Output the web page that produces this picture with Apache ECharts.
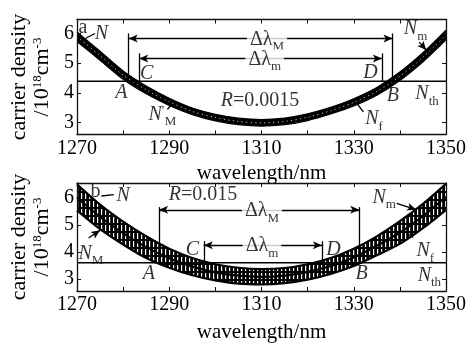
<!DOCTYPE html>
<html><head><meta charset="utf-8">
<script src="https://cdn.jsdelivr.net/npm/echarts@6/dist/echarts.min.js"></script>
<style>html,body{margin:0;padding:0;background:#fff}#c{width:469px;height:344px}</style>
</head><body><div id="c"></div>
<script>
// ---------- data ----------
const wl = [1270,1275,1280,1285,1290,1295,1300,1305,1310,1315,1320,1325,1330,1335,1340,1345,1350];
// panel a (R=0.0015)
const topLower = [5.73,5.10,4.46,3.97,3.58,3.27,3.06,2.93,2.88,2.93,3.07,3.29,3.56,3.92,4.42,5.05,5.79];
const topUpper = [6.05,5.40,4.74,4.23,3.82,3.49,3.28,3.15,3.10,3.15,3.29,3.51,3.80,4.18,4.70,5.35,6.11];
const topNth = 4.39;
// panel b (R=0.015)
const botLower = [5.54,4.85,4.28,3.78,3.42,3.14,2.95,2.83,2.80,2.85,2.98,3.19,3.48,3.88,4.30,4.88,5.56];
const botUpper = [6.50,5.75,5.12,4.58,4.12,3.78,3.55,3.42,3.37,3.41,3.55,3.78,4.12,4.58,5.14,5.78,6.52];
const botNth = 3.60;
// wavelengths of A,B (Δλ_M) and C,D (Δλ_m)
const topAB = [1281.2, 1338.4], topCD = [1283.5, 1336.1];
const botAB = [1287.8, 1331.2], botCD = [1297.5, 1323.1];
const xTicks = [1270,1290,1310,1330,1350];
const yTicks = [3,4,5,6];

// ---------- layout / annotations ----------
const topAnn = {vTopM:6.0, arrM:5.83, vTopm:5.33, arrm:5.16};
const botAnn = {vTopM:5.66, arrM:5.56, vTopm:4.40, arrm:4.25};

const FONT = 'Liberation Serif';
const RICH = {
  r:{fontSize:20,lineHeight:20,verticalAlign:'top',fontFamily:FONT,color:'#000'},
  i:{fontSize:20,lineHeight:20,verticalAlign:'top',fontStyle:'italic',fontFamily:FONT,color:'#000'},
  s:{fontSize:13,lineHeight:13,verticalAlign:'top',padding:[11,0,0,0],fontFamily:FONT,color:'#000'},
  p:{fontSize:13,lineHeight:13,verticalAlign:'top',fontFamily:FONT,color:'#000'}
};
const topLabels = [
  [1271.3,6.18,'{r|a}'],
  [1275.3,5.98,'{i|N}'],
  [1279.6,4.02,'{i|A}'],
  [1285.1,4.66,'{i|C}'],
  [1288.5,3.28,'{i|N}{p|′}{s|M}'],
  [1309.7,3.75,'{i|R}{r|=0.0015}'],
  [1333.6,4.69,'{i|D}'],
  [1338.5,3.92,'{i|B}'],
  [1343.4,6.16,'{i|N}{s|m}'],
  [1345.9,3.96,'{i|N}{s|th}'],
  [1334.4,3.12,'{i|N}{s|f}'],
  [1311.2,5.80,'{r|Δλ}{s|M}',true],
  [1310.7,5.13,'{r|Δλ}{s|m}',true]
];
const botLabels = [
  [1274.0,6.21,'{r|b}'],
  [1280.0,6.07,'{i|N}'],
  [1297.3,6.11,'{i|R}{r|=0.015}'],
  [1310.1,5.52,'{r|Δλ}{s|M}',true],
  [1310.1,4.22,'{r|Δλ}{s|m}',true],
  [1295.0,4.07,'{i|C}'],
  [1325.6,4.07,'{i|D}'],
  [1285.6,3.19,'{i|A}'],
  [1331.7,3.19,'{i|B}'],
  [1346.4,3.14,'{i|N}{s|th}'],
  [1345.5,4.05,'{i|N}{s|f}'],
  [1336.6,6.02,'{i|N}{s|m}'],
  [1273.0,3.95,'{i|N}{s|M}']
];
// leader lines [x1,y1,x2,y2,arrowAtEnd]
const topLeaders = [
  [1271.9,5.84,1273.9,6.0,false],
  [1289.6,3.45,1290.6,3.62,false],
  [1344.2,5.71,1345.7,5.44,true],
  [1332.1,3.36,1330.6,3.66,false]
];
const botLeaders = [
  [1275.3,6.07,1278.0,6.12,false],
  [1339.3,5.80,1343.5,5.57,true],
  [1342.9,4.54,1341.1,4.76,false],
  [1272.5,4.52,1275.0,4.80,true]
];

function hatch(){
  const c=document.createElement('canvas'); c.width=4; c.height=8;
  const g=c.getContext('2d'); g.fillStyle='#000'; g.fillRect(0,0,4,8);
  g.fillStyle='#fff'; g.fillRect(1,1,1.2,6); return c;
}

const grids = [
  {left:76, top:19.5, width:375, height:115},
  {left:73, top:183, width:377, height:119}
];
const yRanges = [[2.6,6.47],[2.56,6.55]];
const AX = '#111';

const xAxes = [], yAxes = [];
grids.forEach((g,gi)=>{
  xAxes.push({type:'value',gridIndex:gi,min:1270,max:1350,interval:10,position:'bottom',z:10,
    axisLine:{show:true,onZero:false,lineStyle:{color:AX,width:1.3}},
    axisTick:{show:true,inside:true,length:4,lineStyle:{color:AX,width:1}},
    splitLine:{show:false},
    axisLabel:{show:true,margin:4,color:'#000',fontFamily:FONT,fontSize:20,
      formatter:v=>xTicks.indexOf(v)>=0?String(v):''},
    name:'wavelength/nm',nameLocation:'middle',nameGap:gi===0?28:31,
    nameTextStyle:{fontFamily:FONT,fontSize:21,color:'#000'}});
  xAxes.push({type:'value',gridIndex:gi,min:1270,max:1350,interval:10,position:'top',z:10,
    axisLine:{show:true,onZero:false,lineStyle:{color:AX,width:1.3}},
    axisTick:{show:true,inside:true,length:4,lineStyle:{color:AX,width:1}},
    splitLine:{show:false},axisLabel:{show:false}});
  const [mn,mx]=yRanges[gi];
  yAxes.push({type:'value',gridIndex:gi,min:mn,max:mx,position:'left',z:10,
    axisLine:{show:true,onZero:false,lineStyle:{color:AX,width:1.3}},
    axisTick:{show:true,inside:true,length:4,customValues:yTicks,lineStyle:{color:AX,width:1}},
    splitLine:{show:false},
    axisLabel:{show:true,margin:3,customValues:yTicks,color:'#000',fontFamily:FONT,fontSize:20},
    name:'{n|carrier density}\n{n|/10}{p|18}{n|cm}{p|-3}',nameLocation:'middle',nameRotate:90,nameGap:23,
    nameTextStyle:{color:'#000',rich:{
      n:{fontFamily:FONT,fontSize:22,lineHeight:23,verticalAlign:'top',color:'#000'},
      p:{fontFamily:FONT,fontSize:13,lineHeight:13,verticalAlign:'top',color:'#000'}}}});
  yAxes.push({type:'value',gridIndex:gi,min:mn,max:mx,position:'right',z:10,
    axisLine:{show:true,onZero:false,lineStyle:{color:AX,width:1.3}},
    axisTick:{show:true,inside:true,length:4,customValues:yTicks,lineStyle:{color:AX,width:1}},
    splitLine:{show:false},axisLabel:{show:false}});
});

const series = [];
function band(gi, lower, upper, fill, mid, lw){
  const xi=gi*2, yi=gi*2;
  // filled region between the two curves, through the axis scales
  series.push({type:'custom',xAxisIndex:xi,yAxisIndex:yi,clip:true,silent:true,z:2,
    data:wl.map((x,i)=>[x,lower[i],upper[i]]),
    renderItem:(params,api)=>{
      if(params.dataIndex!==0) return null;
      const pts=[];
      for(let i=0;i<wl.length;i++) pts.push(api.coord([wl[i],upper[i]]));
      for(let i=wl.length-1;i>=0;i--) pts.push(api.coord([wl[i],lower[i]]));
      return {type:'polygon',shape:{points:pts},style:{fill:fill}};
    }});
  [lower,upper].forEach(arr=>series.push({type:'line',xAxisIndex:xi,yAxisIndex:yi,smooth:0.3,symbol:'none',
    data:wl.map((x,i)=>[x,arr[i]]),lineStyle:{color:'#000',width:lw},z:3}));
  series.push({type:'line',xAxisIndex:xi,yAxisIndex:yi,smooth:0.3,symbol:'none',
    data:wl.map((x,i)=>[x,+((upper[i]+lower[i])/2).toFixed(3)]),
    lineStyle:mid,z:3});
}
band(0, topLower, topUpper, '#000', {color:'#fff',width:1,type:[1,3.5],opacity:0.9}, 1.3);
band(1, botLower, botUpper, {image:hatch(),repeat:'repeat'}, {color:'#000',width:2.2}, 2.2);

function annot(gi, nth, AB, CD, A, leaders){
  const xi=gi*2;
  const seg=(x1,y1,x2,y2,s1,s2)=>[{coord:[x1,y1],symbol:s1||'none'},{coord:[x2,y2],symbol:s2||'none'}];
  const d=[
    seg(AB[0],nth,AB[0],A.vTopM), seg(AB[1],nth,AB[1],A.vTopM),
    seg(CD[0],nth,CD[0],A.vTopm), seg(CD[1],nth,CD[1],A.vTopm),
    seg(AB[0],A.arrM,AB[1],A.arrM,'arrow','arrow'),
    seg(CD[0],A.arrm,CD[1],A.arrm,'arrow','arrow')
  ];
  leaders.forEach(l=>d.push(seg(l[0],l[1],l[2],l[3],'none',l[4]?'arrow':'none')));
  series.push({type:'line',xAxisIndex:xi,yAxisIndex:xi,symbol:'none',z:4,
    data:[[1270,nth],[1350,nth]],lineStyle:{color:'#000',width:1.5},
    markLine:{silent:true,symbolSize:[6,9],animation:false,
      lineStyle:{color:'#000',width:1.3,type:'solid'},label:{show:false},
      emphasis:{disabled:true},data:d}});
}
annot(0, topNth, topAB, topCD, topAnn, topLeaders);
annot(1, botNth, botAB, botCD, botAnn, botLeaders);

function labels(gi, items){
  series.push({type:'scatter',xAxisIndex:gi*2,yAxisIndex:gi*2,symbolSize:1,silent:true,z:6,
    itemStyle:{color:'rgba(0,0,0,0)'},
    data:items.map(it=>({value:[it[0],it[1]],label:{show:true,position:'inside',formatter:it[2],
      rich:RICH,backgroundColor:it[3]?'#fff':'transparent',padding:it[3]?[0,3,0,3]:0}}))});
}
labels(0, topLabels);
labels(1, botLabels);

const chart = echarts.init(document.getElementById('c'), null, {renderer:'canvas'});
chart.setOption({
  animation:false,
  backgroundColor:'#fff',
  textStyle:{fontFamily:FONT},
  grid:grids,
  xAxis:xAxes,
  yAxis:yAxes,
  series:series
});
</script></body></html>
